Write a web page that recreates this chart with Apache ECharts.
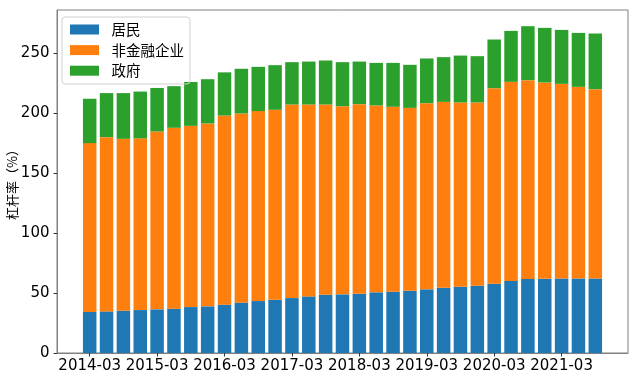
<!DOCTYPE html>
<html>
<head>
<meta charset="utf-8">
<script src="https://cdn.jsdelivr.net/npm/echarts@6/dist/echarts.min.js"></script>
<style>
  html, body { margin: 0; padding: 0; background: #fff; }
  #chart { width: 636px; height: 376px; }
</style>
</head>
<body>
<div id="chart"></div>
<script>
// 季度
const quarters = [
  '2014-03', '2014-06', '2014-09', '2014-12',
  '2015-03', '2015-06', '2015-09', '2015-12',
  '2016-03', '2016-06', '2016-09', '2016-12',
  '2017-03', '2017-06', '2017-09', '2017-12',
  '2018-03', '2018-06', '2018-09', '2018-12',
  '2019-03', '2019-06', '2019-09', '2019-12',
  '2020-03', '2020-06', '2020-09', '2020-12',
  '2021-03', '2021-06', '2021-09'
]
// 居民
const household = [
  34.2, 34.7, 35.3, 35.8, 36.4, 37.0, 38.3, 38.9,
  40.3, 42.0, 43.3, 44.4, 45.8, 47.2, 48.6, 48.9,
  49.4, 50.6, 51.1, 51.9, 53.1, 54.4, 55.3, 56.1,
  57.8, 60.0, 61.7, 61.9, 62.2, 62.2, 62.2
]
// 非金融企业
const corporate = [
  140.8, 145.3, 143.3, 143.2, 148.3, 150.8, 151.1, 152.5,
  157.7, 157.7, 158.4, 158.4, 161.4, 160.0, 158.6, 156.9,
  158.1, 155.8, 154.2, 152.5, 155.2, 155.0, 153.6, 152.8,
  163.0, 166.1, 165.8, 163.7, 162.2, 159.7, 157.8
]
// 政府
const government = [
  37.0, 36.7, 38.1, 39.0, 36.3, 34.7, 36.6, 36.9,
  36.0, 37.3, 36.9, 37.2, 35.3, 35.8, 36.7, 36.7,
  35.5, 35.5, 36.6, 35.9, 37.3, 37.3, 39.1, 38.6,
  40.6, 42.5, 45.0, 45.5, 45.0, 45.0, 46.4
]
const tickPositions = [0, 4, 8, 12, 16, 20, 24, 28]

const chart = echarts.init(document.getElementById('chart'))

// 数值放在第0列，这样堆叠作用在 y 上
const mkSeries = (name, values, color) => ({
  name: name,
  type: 'bar',
  stack: 'total',
  barWidth: 13.5,
  itemStyle: { color: color },
  encode: { x: 1, y: 0 },
  data: values.map((v, i) => [v, i])
})

const option = {
  animation: false,
  textStyle: { fontFamily: 'DejaVu Sans' },
  grid: {
    left: 57, right: 8, top: 10, bottom: 23,
    outerBoundsMode: 'none',
    show: true, borderColor: '#808080', borderWidth: 1
  },
  legend: {
    orient: 'vertical',
    left: 62, top: 17,
    icon: 'rect',
    itemWidth: 29, itemHeight: 10, itemGap: 3.6,
    padding: [4, 6, 4.8, 8],
    borderColor: '#d0d0d0', borderWidth: 1, borderRadius: 3,
    textStyle: {
      fontFamily: 'Noto Sans CJK SC', fontSize: 14.5, color: '#000',
      lineHeight: 17, padding: [0, 0, 0, 7.5]
    },
    data: ['居民', '非金融企业', '政府']
  },
  xAxis: {
    type: 'value',
    min: -1.94, max: 31.94,
    splitLine: { show: false },
    axisLine: { show: true, onZero: false, lineStyle: { color: '#808080' } },
    axisTick: { show: true, customValues: tickPositions, length: 3.5, lineStyle: { color: '#333' } },
    axisLabel: {
      customValues: tickPositions,
      formatter: v => quarters[Math.round(v)],
      fontSize: 15, color: '#000', margin: 5.5
    }
  },
  yAxis: {
    type: 'value',
    min: 0, max: 286, interval: 50,
    name: '杠杆率（%）',
    nameLocation: 'middle',
    nameGap: 38,
    nameMoveOverlap: false,
    nameTextStyle: { fontFamily: 'Noto Sans CJK SC', fontSize: 13, color: '#000' },
    splitLine: { show: false },
    axisLine: { show: true, onZero: false, lineStyle: { color: '#808080' } },
    axisTick: { show: true, length: 3.5, lineStyle: { color: '#333' } },
    axisLabel: { fontSize: 15, color: '#000', margin: 7.5, showMaxLabel: false }
  },
  series: [
    mkSeries('居民', household, '#1f77b4'),
    mkSeries('非金融企业', corporate, '#ff7f0e'),
    mkSeries('政府', government, '#2ca02c')
  ]
}

chart.setOption(option)
</script>
</body>
</html>
